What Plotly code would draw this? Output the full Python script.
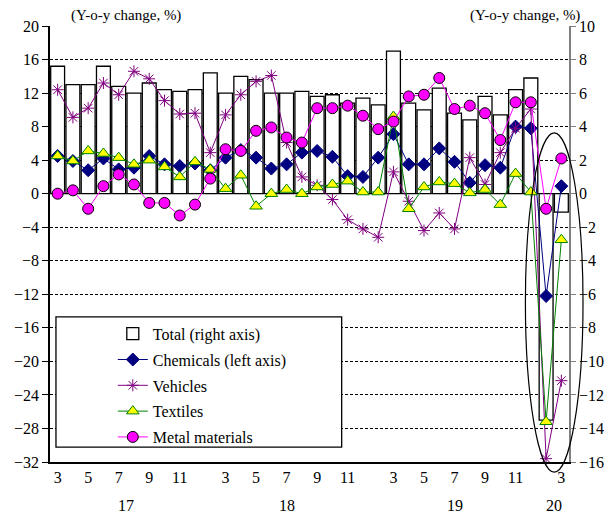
import plotly.graph_objects as go

# Month labels (Jan-Feb released as one combined figure) and their years
months = ["3", "4", "5", "6", "7", "8", "9", "10", "11", "12",
          "1-2", "3", "4", "5", "6", "7", "8", "9", "10", "11", "12",
          "1-2", "3", "4", "5", "6", "7", "8", "9", "10", "11", "12",
          "1-2", "3"]
years = ["17"] * 10 + ["18"] * 11 + ["19"] * 11 + ["20"] * 2
shown_months = ["3", "5", "7", "9", "11"]

# Year-on-year change, %
total = [7.6, 6.5, 6.5, 7.6, 6.4, 6.0, 6.6, 6.2, 6.1, 6.2,
         7.2, 6.0, 7.0, 6.8, 6.0, 6.0, 6.1, 5.8, 5.9, 5.4, 5.7,
         5.3, 8.5, 5.4, 5.0, 6.3, 4.8, 4.4, 5.8, 4.7, 6.2, 6.9,
         -13.5, -1.1]
chemicals = [4.5, 3.9, 2.8, 4.2, 2.9, 3.1, 4.5, 3.5, 3.3, 3.6,
             2.8, 4.3, 5.2, 4.3, 3.0, 3.5, 4.9, 5.1, 4.4, 2.1, 2.0,
             4.3, 7.1, 3.5, 3.5, 5.4, 3.8, 1.3, 3.4, 3.1, 8.0, 7.8,
             -12.2, 0.9]
vehicles = [12.4, 9.1, 10.2, 13.2, 11.8, 14.6, 13.7, 11.1, 9.5, 9.6,
            4.9, 9.4, 11.8, 13.4, 14.1, 6.1, 2.0, 1.0, -0.7, -3.1, -4.2,
            -5.2, 2.6, -0.9, -4.4, -2.3, -4.2, 4.3, 1.1, 4.9, 7.8, 10.1,
            -31.6, -22.3]
textiles = [4.5, 3.9, 5.1, 4.8, 4.3, 3.5, 4.0, 3.2, 2.0, 3.8,
            2.9, 0.6, 2.2, -1.5, 0.0, 0.5, 0.0, 0.8, 1.1, 1.5, 0.2,
            0.2, 9.2, -1.8, 0.8, 1.4, 1.2, 0.1, 0.5, -1.3, 2.4, 0.2,
            -27.2, -5.5]
metals = [0.0, 0.4, -1.8, 0.9, 2.3, 1.1, -1.1, -1.1, -2.6, -1.3,
          1.8, 5.3, 5.1, 7.5, 7.9, 6.7, 6.1, 10.2, 10.2, 10.5, 9.3,
          7.7, 8.6, 11.6, 11.8, 13.8, 10.1, 10.5, 9.6, 6.4, 10.9, 10.9,
          -1.8, 4.2]

FONT = "Liberation Serif"
x = list(range(len(months)))

fig = go.Figure()

fig.add_trace(go.Bar(
    x=x, y=total, name="Total (right axis)", yaxis="y",
    marker=dict(color="white", line=dict(color="black", width=1.3)),
    legendgroup="g1",
))


def line_trace(values, name, color, symbol, fill, outline, size, group):
    return go.Scatter(
        x=x, y=values, name=name, yaxis="y2", mode="lines+markers",
        line=dict(color=color, width=1),
        marker=dict(symbol=symbol, size=size, color=fill,
                    line=dict(color=outline, width=1)),
        cliponaxis=False, legendgroup=group,
    )


fig.add_trace(line_trace(chemicals, "Chemicals (left axis)", "#000080",
                         "diamond", "#000080", "#000080", 10, "g2"))
fig.add_trace(line_trace(vehicles, "Vehicles", "#800080",
                         "asterisk-open", "#800080", "#800080", 10, "g3"))
fig.add_trace(line_trace(textiles, "Textiles", "#008000",
                         "triangle-up", "#FFFF00", "#008000", 11, "g4"))
fig.add_trace(line_trace(metals, "Metal materials", "#FF00FF",
                         "circle", "#FF00FF", "black", 11, "g5"))

tickvals = [i for i, m in enumerate(months) if m in shown_months]
ticktext = [months[i] for i in tickvals]

# Year labels centred under each year's months
annotations = []
for yr in dict.fromkeys(years):
    idx = [i for i, v in enumerate(years) if v == yr]
    annotations.append(dict(
        x=sum(idx) / len(idx), y=-0.1, xref="x", yref="paper",
        text=yr, showarrow=False, yanchor="middle", xanchor="center",
        font=dict(family=FONT, size=16, color="black"),
    ))

annotations += [
    dict(x=0.147, y=1.0, xref="paper", yref="paper", yanchor="bottom",
         xanchor="center", text="(Y-o-y change, %)", showarrow=False,
         font=dict(family=FONT, size=15, color="black")),
    dict(x=0.916, y=1.0, xref="paper", yref="paper", yanchor="bottom",
         xanchor="center", text="(Y-o-y change, %)", showarrow=False,
         font=dict(family=FONT, size=15, color="black")),
]

shapes = [
    # legend frame
    dict(type="rect", xref="paper", yref="paper",
         x0=0.0115, x1=0.562, y0=0.034, y1=0.333,
         fillcolor="white", line=dict(color="black", width=1.3),
         layer="above"),
    # ring around the latest months
    dict(type="circle", xref="paper", yref="paper",
         x0=0.916, x1=1.027, y0=-0.023, y1=0.755,
         line=dict(color="black", width=1.2), layer="above"),
]

fig.update_layout(
    width=616, height=516,
    margin=dict(l=50, r=43, t=26, b=54),
    paper_bgcolor="white", plot_bgcolor="white",
    font=dict(family=FONT, size=16, color="black"),
    bargap=0.09,
    showlegend=True,
    legend=dict(x=0.121, y=0.333, xanchor="left", yanchor="top",
                bgcolor="rgba(0,0,0,0)", borderwidth=0,
                tracegroupgap=2, font=dict(family=FONT, size=16)),
    xaxis=dict(range=[-0.5, len(months) - 0.5], tickvals=tickvals,
               ticktext=ticktext, showgrid=False, zeroline=False,
               showline=True, linecolor="black", linewidth=1.5,
               ticks="", tickfont=dict(family=FONT, size=16)),
    yaxis=dict(range=[-16, 10], dtick=2, side="right", showgrid=False,
               zeroline=False, showline=True, linecolor="#808080",
               linewidth=1.5, ticks="outside", ticklen=5,
               tickcolor="#808080",
               tickfont=dict(family=FONT, size=16)),
    yaxis2=dict(range=[-32, 20], dtick=4, side="left", overlaying="y",
                showgrid=True, gridcolor="black", gridwidth=1,
                griddash="3px,2px", zeroline=True, zerolinecolor="black",
                zerolinewidth=1, showline=True, linecolor="black",
                linewidth=1.5, ticks="outside", ticklen=6,
                tickcolor="black", tickfont=dict(family=FONT, size=16)),
    annotations=annotations,
    shapes=shapes,
)

fig.write_html("out.html")
